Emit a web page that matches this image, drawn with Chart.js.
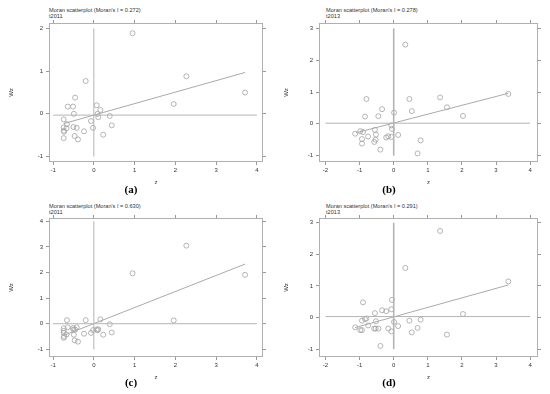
<!DOCTYPE html>
<html>
<head>
<meta charset="utf-8">
<script src="https://cdn.jsdelivr.net/npm/chart.js@4"></script>
<style>
  body { margin: 0; background: #fff; width: 550px; height: 394px; position: relative; overflow: hidden; font-family: "Liberation Sans", Arial, sans-serif; }
  .pane { position: absolute; width: 275px; height: 175px; }
  .ttl { position: absolute; font-size: 5.6px; line-height: 6px; color: #333; white-space: nowrap; }
  .lab { position: absolute; width: 60px; text-align: center; font-family: "Liberation Serif", "DejaVu Serif", serif; font-weight: bold; font-size: 11px; color: #000; }
</style>
</head>
<body>
<div class="ttl" style="left:49px;top:7px">Moran scatterplot (Moran's I = 0.272)</div>
<div class="ttl" style="left:49px;top:13px">t2011</div>
<div class="ttl" style="left:326px;top:7px">Moran scatterplot (Moran's I = 0.278)</div>
<div class="ttl" style="left:326px;top:13px">t2013</div>
<div class="ttl" style="left:49px;top:203px">Moran scatterplot (Moran's I = 0.630)</div>
<div class="ttl" style="left:49px;top:209px">t2011</div>
<div class="ttl" style="left:326px;top:203px">Moran scatterplot (Moran's I = 0.291)</div>
<div class="ttl" style="left:326px;top:209px">t2013</div>

<div class="pane" style="left:0;top:15px"><canvas id="ca" width="275" height="175"></canvas></div>
<div class="pane" style="left:275px;top:15px"><canvas id="cb" width="275" height="175"></canvas></div>
<div class="pane" style="left:0;top:210px"><canvas id="cc" width="275" height="175"></canvas></div>
<div class="pane" style="left:275px;top:210px"><canvas id="cd" width="275" height="175"></canvas></div>

<div class="lab" style="left:101px;top:183px">(a)</div>
<div class="lab" style="left:359px;top:183px">(b)</div>
<div class="lab" style="left:101px;top:376px">(c)</div>
<div class="lab" style="left:359px;top:376px">(d)</div>

<script>
// z values (standardised) per year
const z2011 = [0.95, 2.27, 3.71, 1.96, -0.20, -0.46, -0.64, -0.51, -0.49, 0.07, 0.16, 0.09, 0.11, 0.39, -0.07,
               -0.02, 0.44, 0.23, -0.24, -0.42, -0.50, -0.47, -0.39, -0.74, -0.66, -0.74, -0.67, -0.74, -0.73, -0.74];
const z2013 = [0.34, -0.80, 0.46, 1.36, 1.56, 3.36, 2.03, 0.53, 0.01, -0.34, -0.45, -0.84, -0.07, -0.05, -0.55, -0.52,
               -0.75, -0.90, -0.98, -1.13, -0.93, -0.93, -0.57, -0.53, -0.39, -0.22, -0.16, -0.07, 0.13, 0.79, 0.70];

// spatial lag Wz
const wzA = [1.89, 0.88, 0.50, 0.23, 0.77, 0.38, 0.17, 0.17, 0.00, 0.20, 0.09, 0.00, -0.08, -0.05, -0.17,
             -0.33, -0.27, -0.49, -0.41, -0.33, -0.31, -0.52, -0.60, -0.13, -0.24, -0.32, -0.34, -0.40, -0.42, -0.57];
const wzB = [2.49, 0.78, 0.78, 0.83, 0.52, 0.94, 0.25, 0.40, 0.35, 0.46, 0.24, 0.23, -0.05, -0.16, -0.19, -0.34,
             -0.40, -0.26, -0.23, -0.31, -0.48, -0.62, -0.57, -0.50, -0.81, -0.43, -0.39, -0.41, -0.35, -0.52, -0.93];
const wzC = [1.97, 3.05, 1.91, 0.13, 0.14, -0.23, -0.14, -0.17, -0.43, -0.22, 0.17, -0.26, -0.22, -0.02, -0.36,
             -0.25, -0.34, -0.43, -0.39, -0.14, -0.23, -0.65, -0.70, -0.18, 0.14, -0.28, -0.42, -0.36, -0.50, -0.55];
const wzD = [1.57, -0.03, -0.10, 2.74, -0.54, 1.14, 0.11, -0.47, -0.14, 0.23, -0.35, -0.05, 0.26, 0.56, 0.14, -0.12,
             -0.25, 0.48, -0.40, -0.31, -0.10, -0.40, -0.35, -0.35, -0.90, 0.20, -0.35, -0.44, -0.27, -0.07, -0.33];

// fitted line end points [x0, y0, x1, y1]
const fitA = [-0.74, -0.23, 3.71, 0.97];
const fitB = [-1.10, -0.28, 3.36, 0.96];
const fitC = [-0.74, -0.46, 3.71, 2.33];
const fitD = [-1.13, -0.32, 3.36, 1.03];

// mean of Wz (horizontal reference line)
const meanWzA = -0.03, meanWzB = 0.02, meanWzC = 0.0, meanWzD = 0.03;

const ticksX2011 = [-1, 0, 1, 2, 3, 4];
const ticksX2013 = [-2, -1, 0, 1, 2, 3, 4];
const ticksYA = [-1, 0, 1, 2];
const ticksYB = [-1, 0, 1, 2, 3];
const ticksYC = [-1, 0, 1, 2, 3, 4];
const ticksYD = [-1, 0, 1, 2, 3];

const FONT = { family: "'Liberation Sans', Arial, sans-serif", size: 6 };
const TICK_C = '#999999';
const BOX_C = '#b0b0b0';

// crisp 1px frame round the plot region
const frame = {
  id: 'frame',
  beforeDatasetsDraw(chart) {
    const a = chart.chartArea, ctx = chart.ctx;
    ctx.save();
    ctx.strokeStyle = BOX_C;
    ctx.lineWidth = 1;
    ctx.strokeRect(Math.round(a.left) + 0.5, Math.round(a.top) + 0.5,
                   Math.round(a.right - a.left) - 1, Math.round(a.bottom - a.top) - 1);
    ctx.restore();
  }
};

function axis(pos, axisKind, min, max, ticks, size, showLabels, title) {
  const horiz = axisKind === 'x';
  return {
    type: 'linear', display: true, position: pos, axis: axisKind, min: min, max: max,
    afterBuildTicks: s => { s.ticks = ticks.map(v => ({ value: v })); },
    afterFit: s => { if (horiz) s.height = size; else s.width = size; },
    grid: { display: true, drawOnChartArea: false, drawTicks: true, tickLength: 3, color: TICK_C, tickColor: TICK_C, lineWidth: 1, tickWidth: 1 },
    border: { display: false },
    ticks: { display: showLabels, font: FONT, color: '#333', padding: horiz ? 2 : 3, maxRotation: 0, autoSkip: false },
    title: title ? { display: true, text: title, font: FONT, color: '#333', padding: horiz ? { top: 0, bottom: 4 } : { top: 8, bottom: 0 } } : { display: false }
  };
}

function panel(id, z, wz, fit, meanWz, xr, yr, xt, yt, leftW, vWidth) {
  const pts = z.map((x, i) => ({ x: x, y: wz[i] }));
  new Chart(document.getElementById(id), {
    type: 'scatter',
    data: {
      datasets: [
        { data: [{ x: xt[0], y: meanWz }, { x: xt[xt.length - 1], y: meanWz }], type: 'line',
          borderColor: '#b4b4b4', borderWidth: 1, pointRadius: 0, fill: false },
        { data: [{ x: 0, y: yt[0] }, { x: 0, y: yt[yt.length - 1] }], type: 'line',
          borderColor: '#b4b4b4', borderWidth: vWidth, pointRadius: 0, fill: false },
        { data: [{ x: fit[0], y: fit[1] }, { x: fit[2], y: fit[3] }], type: 'line',
          borderColor: '#aaaaaa', borderWidth: 1, pointRadius: 0, fill: false },
        { data: pts, pointStyle: 'circle', pointRadius: 2.5, pointBorderWidth: 0.8,
          borderColor: '#a2a2a2', backgroundColor: 'rgba(0,0,0,0)', showLine: false }
      ]
    },
    options: {
      responsive: false, animation: false, devicePixelRatio: 1,
      layout: { padding: 0 },
      plugins: { legend: { display: false }, tooltip: { enabled: false } },
      scales: {
        x: axis('bottom', 'x', xr[0], xr[1], xt, 28, true, 'z'),
        x2: axis('top', 'x', xr[0], xr[1], xt, 8, false, null),
        y: axis('left', 'y', yr[0], yr[1], yt, leftW, true, 'Wz'),
        y2: axis('right', 'y', yr[0], yr[1], yt, 12, false, null)
      }
    },
    plugins: [frame]
  });
}

panel('ca', z2011, wzA, fitA, meanWzA, [-1.1, 4.15], [-1.13, 2.13], ticksX2011, ticksYA, 49, 1);
panel('cb', z2013, wzB, fitB, meanWzB, [-2.19, 4.23], [-1.2, 3.17], ticksX2013, ticksYB, 44, 1.6);
panel('cc', z2011, wzC, fitC, meanWzC, [-1.1, 4.15], [-1.3, 4.13], ticksX2011, ticksYC, 49, 1);
panel('cd', z2013, wzD, fitD, meanWzD, [-2.19, 4.23], [-1.25, 3.15], ticksX2013, ticksYD, 44, 1.6);
</script>
</body>
</html>
